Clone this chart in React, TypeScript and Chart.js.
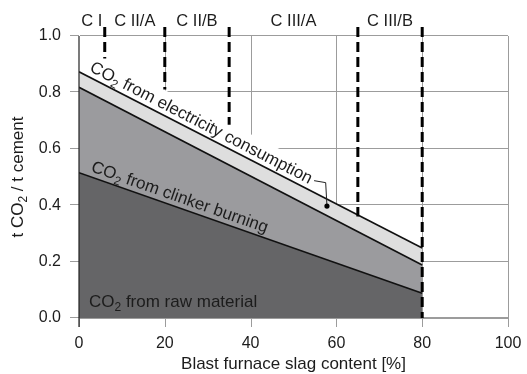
import React, { useEffect, useRef } from "react";
import { Chart, registerables } from "chart.js";

Chart.register(...registerables);

// ---- data ----
const slagContent = [0, 80];
const rawMaterial = [0.515, 0.088];
const clinkerBurning = [0.818, 0.188];
const electricityConsumption = [0.873, 0.248];

const xTickValues = [0, 20, 40, 60, 80, 100];
const yTickValues = [0, 0.2, 0.4, 0.6, 0.8, 1.0];

const cementTypes = ["C I", "C II/A", "C II/B", "C III/A", "C III/B"];
const typeBounds = [0, 6, 20, 35, 65, 80];
const boundaryLineEnds = [0.92, 0.81, 0.685, 0.36, 0];

const leaderPath: number[][] = [
  [54.8, 0.487],
  [57.5, 0.48],
  [57.8, 0.397],
];

// ---- styles ----
const FONT = "'Liberation Sans', Arial, Helvetica, sans-serif";
const f = (s: number) => `${s}px ${FONT}`;
const TEXT = "#1c1c1c";
const GRID = "#9c9c9c";
const TICK_LEN = 9;

type Seg = { t: string; sub?: boolean };
const co2 = (rest: string): Seg[] => [{ t: "CO" }, { t: "2", sub: true }, { t: rest }];

function measureRich(ctx: CanvasRenderingContext2D, segs: Seg[], size: number, sub: number) {
  let w = 0;
  for (const s of segs) {
    ctx.font = f(s.sub ? sub : size);
    w += ctx.measureText(s.t).width;
  }
  return w;
}

function drawRich(
  ctx: CanvasRenderingContext2D,
  segs: Seg[],
  x: number,
  y: number,
  size: number,
  sub: number,
  drop: number,
  align: "left" | "center"
) {
  const w = measureRich(ctx, segs, size, sub);
  let cx = align === "center" ? x - w / 2 : x;
  ctx.textAlign = "left";
  ctx.textBaseline = "alphabetic";
  for (const s of segs) {
    ctx.font = f(s.sub ? sub : size);
    ctx.fillText(s.t, cx, s.sub ? y + drop : y);
    cx += ctx.measureText(s.t).width;
  }
  return w;
}

const LABEL = 17;
const LABEL_SUB = 12;
const DROP = 4;
const elecLabel = co2(" from electricity consumption");
const clinkerLabel = co2(" from clinker burning");
const rawLabel = co2(" from raw material");
const yTitle: Seg[] = [{ t: "t CO" }, { t: "2", sub: true }, { t: " / t cement" }];
const xTitle = "Blast furnace slag content [%]";

function lineGeom(chart: any, idx: number) {
  const pts = chart.getDatasetMeta(idx).data;
  const p0 = pts[0];
  const p1 = pts[pts.length - 1];
  const theta = Math.atan2(p1.y - p0.y, p1.x - p0.x);
  return { p0, theta };
}

function anchorOn(chart: any, idx: number, xVal: number, d: number) {
  const { p0, theta } = lineGeom(chart, idx);
  const X = chart.scales.x.getPixelForValue(xVal);
  const Y = p0.y + (X - p0.x) * Math.tan(theta);
  return { x: X + d * Math.sin(theta), y: Y - d * Math.cos(theta), lx: X, ly: Y, theta };
}

const ELEC_AT = 1.7;
const CLINKER_AT = 2.2;

const annotations = {
  id: "annotations",
  beforeDatasetsDraw(chart: any) {
    const { ctx, chartArea: ca, scales } = chart;
    const xs = scales.x;
    const ys = scales.y;

    // grid lines + tick marks from the library's scales
    ctx.save();
    ctx.strokeStyle = GRID;
    ctx.lineWidth = 1;
    ctx.beginPath();
    for (const t of xs.ticks) {
      const X = Math.round(xs.getPixelForValue(t.value)) + 0.5;
      if (t.value !== xs.min) {
        ctx.moveTo(X, ca.top);
        ctx.lineTo(X, ca.bottom);
      }
      ctx.moveTo(X, ca.bottom);
      ctx.lineTo(X, ca.bottom + TICK_LEN);
    }
    for (const t of ys.ticks) {
      const Y = Math.round(ys.getPixelForValue(t.value)) - 0.5;
      ctx.moveTo(ca.left - TICK_LEN, Y);
      ctx.lineTo(ca.left, Y);
      ctx.moveTo(ca.left + 1, Y);
      ctx.lineTo(ca.right, Y);
    }
    ctx.stroke();
    ctx.restore();

    // white backing behind the electricity label
    const a = anchorOn(chart, 2, ELEC_AT, 5.3);
    const w = measureRich(ctx, elecLabel, LABEL, LABEL_SUB);
    ctx.save();
    ctx.beginPath();
    ctx.rect(ca.left + 1, ca.top + 1, ca.right - ca.left - 2, ca.bottom - ca.top - 2);
    ctx.clip();
    ctx.translate(a.lx, a.ly);
    ctx.rotate(a.theta);
    ctx.fillStyle = "#ffffff";
    ctx.fillRect(-30, -23, w + 36, 23);
    ctx.restore();
  },
  afterDatasetsDraw(chart: any) {
    const { ctx, chartArea, scales } = chart;
    const px = (v: number) => scales.x.getPixelForValue(v);
    const py = (v: number) => scales.y.getPixelForValue(v);
    ctx.save();

    // left axis line
    ctx.strokeStyle = "#222";
    ctx.lineWidth = 1.2;
    ctx.beginPath();
    ctx.moveTo(chartArea.left, chartArea.top);
    ctx.lineTo(chartArea.left, chartArea.bottom + TICK_LEN);
    ctx.stroke();

    // cement type boundaries
    ctx.strokeStyle = "#000";
    ctx.lineWidth = 3;
    ctx.setLineDash([10, 5]);
    typeBounds.slice(1).forEach((b, i) => {
      ctx.beginPath();
      ctx.moveTo(px(b), chartArea.top - 9);
      ctx.lineTo(px(b), py(boundaryLineEnds[i]));
      ctx.stroke();
    });
    ctx.setLineDash([]);

    // cement type labels
    ctx.fillStyle = TEXT;
    ctx.font = f(16.5);
    ctx.textAlign = "center";
    ctx.textBaseline = "alphabetic";
    cementTypes.forEach((name, i) => {
      const mid = (typeBounds[i] + typeBounds[i + 1]) / 2;
      ctx.fillText(name, px(mid), chartArea.top - 10);
    });

    // electricity label
    let a = anchorOn(chart, 2, ELEC_AT, 5.3);
    ctx.save();
    ctx.translate(a.x, a.y);
    ctx.rotate(a.theta);
    drawRich(ctx, elecLabel, 0, 0, LABEL, LABEL_SUB, DROP, "left");
    ctx.restore();

    // clinker label
    a = anchorOn(chart, 0, CLINKER_AT, 5.2);
    ctx.save();
    ctx.translate(a.x, a.y);
    ctx.rotate(a.theta);
    drawRich(ctx, clinkerLabel, 0, 0, LABEL, LABEL_SUB, DROP, "left");
    ctx.restore();

    // raw material label
    drawRich(ctx, rawLabel, chartArea.left + 10, chartArea.bottom - 11.5, LABEL, LABEL_SUB, DROP, "left");

    // leader line + dot
    ctx.strokeStyle = "#222";
    ctx.lineWidth = 1;
    ctx.beginPath();
    leaderPath.forEach(([lx, ly], i) => {
      if (i === 0) ctx.moveTo(px(lx), py(ly));
      else ctx.lineTo(px(lx), py(ly));
    });
    ctx.stroke();
    const last = leaderPath[leaderPath.length - 1];
    ctx.fillStyle = "#000";
    ctx.beginPath();
    ctx.arc(px(last[0]), py(last[1]), 2.6, 0, Math.PI * 2);
    ctx.fill();

    // axis titles
    ctx.fillStyle = TEXT;
    ctx.font = f(17);
    ctx.textAlign = "center";
    ctx.textBaseline = "alphabetic";
    ctx.fillText(xTitle, (chartArea.left + chartArea.right) / 2, 368.5);

    ctx.save();
    ctx.translate(17, (chartArea.top + chartArea.bottom) / 2);
    ctx.rotate(-Math.PI / 2);
    drawRich(ctx, yTitle, 0, 6, 17, 12, DROP, "center");
    ctx.restore();

    ctx.restore();
  },
};

export default function App() {
  const ref = useRef<HTMLCanvasElement | null>(null);

  useEffect(() => {
    if (!ref.current) return;
    const toPts = (vals: number[]) => slagContent.map((x, i) => ({ x, y: vals[i] }));
    const common = { pointRadius: 0, borderColor: "#111", borderWidth: 1.6, tension: 0 };
    const chart = new Chart(ref.current, {
      type: "line",
      data: {
        datasets: [
          { ...common, label: "raw material", data: toPts(rawMaterial), fill: "origin", backgroundColor: "#656567" },
          { ...common, label: "clinker burning", data: toPts(clinkerBurning), fill: "-1", backgroundColor: "#9b9b9e" },
          { ...common, label: "electricity", data: toPts(electricityConsumption), fill: "-1", backgroundColor: "#dedede" },
        ],
      },
      options: {
        animation: false,
        responsive: false,
        devicePixelRatio: 1,
        layout: { padding: { top: 36, right: 19, left: 0, bottom: 0 } },
        plugins: { legend: { display: false }, tooltip: { enabled: false } },
        scales: {
          x: {
            type: "linear",
            min: xTickValues[0],
            max: xTickValues[xTickValues.length - 1],
            afterFit: (s: any) => {
              s.height = 56;
            },
            ticks: {
              stepSize: xTickValues[1] - xTickValues[0],
              font: { family: FONT, size: 16 },
              color: TEXT,
              padding: 5,
              maxRotation: 0,
            },
            grid: { display: false, drawTicks: true, tickLength: 11 },
            border: { display: true, color: GRID, width: 1 },
          },
          y: {
            type: "linear",
            min: yTickValues[0],
            max: yTickValues[yTickValues.length - 1],
            afterFit: (s: any) => {
              s.width = 79;
            },
            ticks: {
              stepSize: yTickValues[1] - yTickValues[0],
              font: { family: FONT, size: 16 },
              color: TEXT,
              padding: 9,
              callback: (v: any) => Number(v).toFixed(1),
            },
            grid: { display: false, drawTicks: true, tickLength: TICK_LEN },
            border: { display: false },
          },
        },
      },
      plugins: [annotations],
    });
    return () => chart.destroy();
  }, []);

  return (
    <div style={{ position: "absolute", left: 0, top: 0, width: 527, height: 374 }}>
      <canvas ref={ref} width={527} height={374} style={{ display: "block", width: 527, height: 374 }} />
    </div>
  );
}
